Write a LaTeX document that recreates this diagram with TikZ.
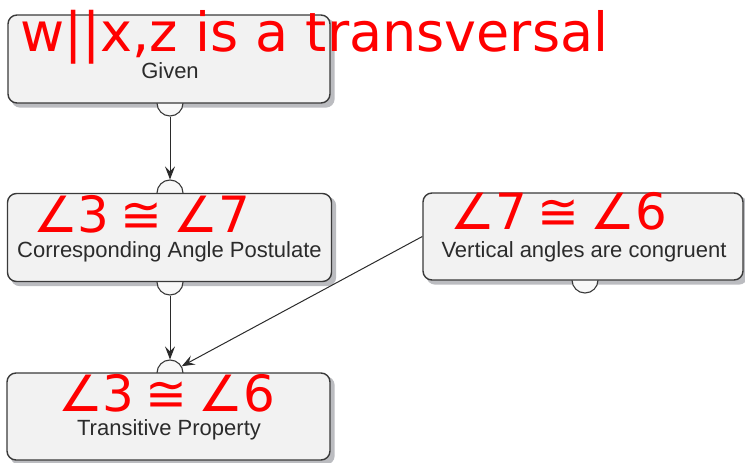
\documentclass[tikz,border=0pt]{standalone}
\usepackage{fontspec}
\setmainfont{Liberation Sans}
\newfontfamily\handfont{DejaVu Sans}
\usetikzlibrary{arrows.meta,calc}
\definecolor{boxfill}{HTML}{F2F2F2}
\definecolor{boxline}{HTML}{3A3A3A}
\definecolor{shadowgray}{HTML}{BBBCC0}
\definecolor{txt}{HTML}{2B2B2B}
\definecolor{ink}{HTML}{FF0000}
\pgfdeclarelayer{shadowlayer}
\pgfdeclarelayer{circlelayer}
\pgfsetlayers{shadowlayer,circlelayer,main}
\tikzset{
  stepbox/.style={draw=boxline, fill=boxfill, line width=1.4pt, rounded corners=9pt,
    minimum height=88pt, inner sep=0pt},
  boxtext/.style={text=txt, font=\fontsize{22}{24}\selectfont, inner sep=0pt, anchor=base},
  port/.style={circle, draw=boxline, fill=boxfill!50!white, line width=1.1pt,
    minimum size=26pt, inner sep=0pt},
  hand/.style={text=ink, font=\handfont\fontsize{54}{58}\selectfont, inner sep=0pt, anchor=base west},
  handbig/.style={text=ink, font=\handfont\fontsize{50}{54}\selectfont, inner sep=0pt, anchor=base west},
  conn/.style={draw=txt, line width=1pt, -{Stealth[length=13pt,width=10pt,inset=5pt]}},
  shadowfill/.style={fill=shadowgray, rounded corners=9pt},
}
\newcommand{\gp}{\hspace{11pt}}
\begin{document}
\begin{tikzpicture}[x=1pt,y=-1pt]
\useasboundingbox (0,0) rectangle (745,463);
% boxes
\node[stepbox, minimum width=322pt] (given) at (169,59) {};
\node[stepbox, minimum width=324pt] (corr) at (169.5,237.5) {};
\node[stepbox, minimum width=320pt, minimum height=87pt] (vert) at (583,236.5) {};
\node[stepbox, minimum width=323pt, minimum height=87pt] (trans) at (168.5,416.5) {};
% shadows
\begin{pgfonlayer}{shadowlayer}
  \foreach \b in {given,corr,vert,trans}{
    \path[shadowfill] ($(\b.south west)+(4,4)$) rectangle ($(\b.north east)+(4,4)$);
  }
\end{pgfonlayer}
% ports
\begin{pgfonlayer}{circlelayer}
  \node[port] (p1) at (170,103) {};
  \node[port] (p2) at (170,193) {};
  \node[port] (p3) at (170,282) {};
  \node[port] (p4) at (585,280) {};
  \node[port] (p5) at (170,373) {};
\end{pgfonlayer}
% texts
\node[boxtext] (t1) at (170,78) {Given};
\node[boxtext] (t2) at (169.5,257) {Corresponding Angle Postulate};
\node[boxtext] (t3) at (584,257) {Vertical angles are congruent};
\node[boxtext] (t4) at (169,435) {Transitive Property};
% connectors
\draw[conn] (p1.south) -- (p2.north);
\draw[conn] (p3.south) -- (p5.north);
\draw[conn] (vert.west) -- (p5.30);
% handwriting
\node[hand] (h0) at (20,51) {w||x,z is a transversal};
\node[handbig] (h1) at (33,232) {∠3\gp≅\gp∠7};
\node[handbig] (h2) at (450,229) {∠7\gp≅\gp∠6};
\node[handbig] (h3) at (58,411) {∠3\gp≅\gp∠6};
\end{tikzpicture}
\end{document}
